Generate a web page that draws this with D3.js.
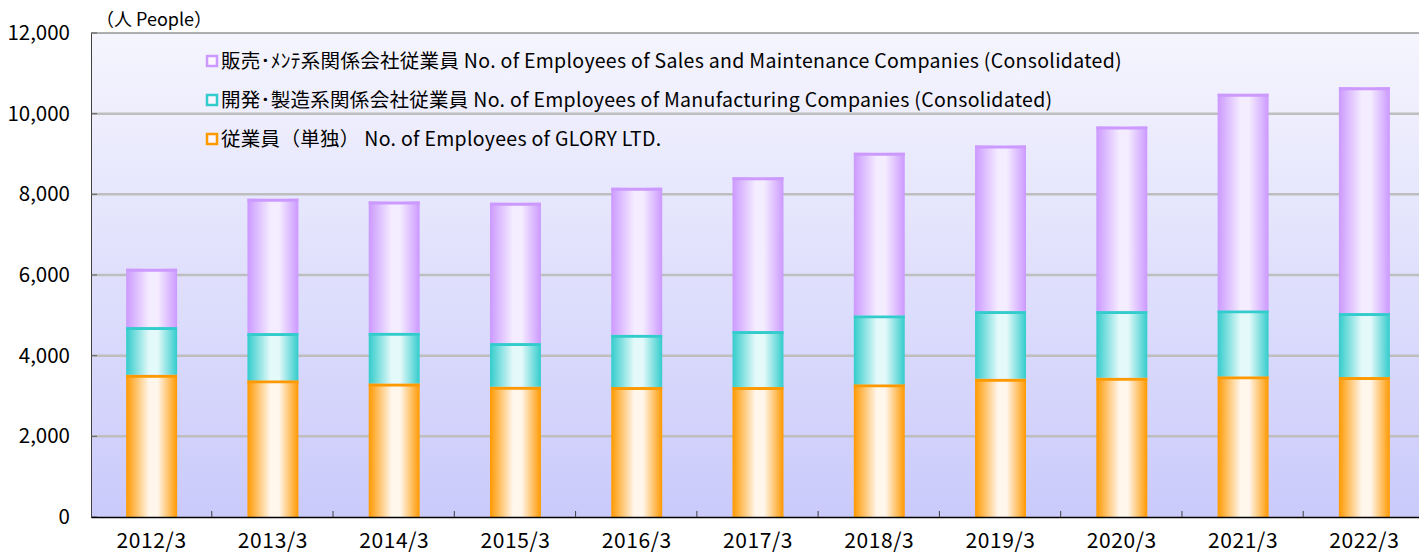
<!DOCTYPE html>
<html>
<head>
<meta charset="utf-8">
<script src="https://cdn.jsdelivr.net/npm/d3@7"></script>
<style>
  body { margin: 0; background: #fff; }
  text { font-family: "Noto Sans CJK JP", "Noto Sans", sans-serif; fill: #000; }
</style>
</head>
<body>
<script>
const years = ['2012/3', '2013/3', '2014/3', '2015/3', '2016/3', '2017/3', '2018/3', '2019/3', '2020/3', '2021/3', '2022/3'];
const gloryLtd = [3529, 3388, 3313, 3232, 3222, 3222, 3289, 3430, 3455, 3487, 3470];
const manufacturing = [1180, 1172, 1257, 1080, 1298, 1388, 1710, 1675, 1650, 1636, 1586];
const salesMaint = [1447, 3331, 3254, 3480, 3644, 3816, 4032, 4107, 4578, 5370, 5601];
const yTicks = [0, 2000, 4000, 6000, 8000, 10000, 12000];
const legendLabels = [
    '販売･ﾒﾝﾃ系関係会社従業員 No. of Employees of Sales and Maintenance Companies (Consolidated)',
    '開発･製造系関係会社従業員 No. of Employees of Manufacturing Companies (Consolidated)',
    '従業員（単独） No. of Employees of GLORY LTD.'
];

const series = [
    { key: 'glory', values: gloryLtd, edge: '#ff9900', mid: '#fff6ec' },
    { key: 'manu', values: manufacturing, edge: '#33cccc', mid: '#e4f9f9' },
    { key: 'sales', values: salesMaint, edge: '#cc99ff', mid: '#f4ecff' }
];

const width = 1419, height = 553;
const plotLeft = 91, plotTop = 33, plotBottom = 517, plotRight = 1425;

let svg = d3.select('body').append('svg')
    .attr('width', width)
    .attr('height', height);

let defs = svg.append('defs');

let bg = defs.append('linearGradient')
    .attr('id', 'bg')
    .attr('x1', 0).attr('y1', 0).attr('x2', 0).attr('y2', 1);
bg.append('stop').attr('offset', '0%').attr('stop-color', '#f5f5fe');
bg.append('stop').attr('offset', '100%').attr('stop-color', '#cacafb');

series.forEach((s) => {
    let g = defs.append('linearGradient')
        .attr('id', 'grad-' + s.key)
        .attr('x1', 0).attr('y1', 0).attr('x2', 1).attr('y2', 0);
    g.append('stop').attr('offset', '0%').attr('stop-color', s.edge);
    g.append('stop').attr('offset', '45%').attr('stop-color', s.mid);
    g.append('stop').attr('offset', '62%').attr('stop-color', s.mid);
    g.append('stop').attr('offset', '100%').attr('stop-color', s.edge);
});

let x = d3.scaleBand()
    .domain(years)
    .range([plotLeft, plotRight])
    .paddingInner(0.58)
    .paddingOuter(0.29);

let y = d3.scaleLinear()
    .domain([0, 12000])
    .range([plotBottom, plotTop]);

// plot background
svg.append('rect')
    .attr('x', plotLeft)
    .attr('y', plotTop)
    .attr('width', plotRight - plotLeft)
    .attr('height', plotBottom - plotTop)
    .attr('fill', 'url(#bg)');

// grid
svg.append('g')
    .selectAll('line')
    .data(yTicks.filter((t) => t > 0 && t < 12000))
    .enter()
    .append('line')
    .attr('x1', plotLeft)
    .attr('x2', plotRight)
    .attr('y1', (d) => y(d))
    .attr('y2', (d) => y(d))
    .attr('stroke', '#bebebe')
    .attr('stroke-width', 2.5);

// top border
svg.append('line')
    .attr('x1', plotLeft).attr('x2', plotRight)
    .attr('y1', y(12000)).attr('y2', y(12000))
    .attr('stroke', '#606060')
    .attr('stroke-width', 1);

// stacked bars
let stackData = years.map((yr, i) => {
    let row = { year: yr };
    series.forEach((s) => { row[s.key] = s.values[i]; });
    return row;
});
let stacked = d3.stack().keys(series.map((s) => s.key))(stackData);

let layers = svg.append('g')
    .selectAll('g')
    .data(stacked)
    .enter()
    .append('g');

layers.selectAll('rect')
    .data((d) => d.map((v) => ({ v: v, key: d.key })))
    .enter()
    .append('rect')
    .attr('x', (d) => x(d.v.data.year))
    .attr('y', (d) => y(d.v[1]))
    .attr('width', x.bandwidth())
    .attr('height', (d) => y(d.v[0]) - y(d.v[1]))
    .attr('fill', (d) => 'url(#grad-' + d.key + ')');

// thin cap line on top of each segment
layers.selectAll('line')
    .data((d) => d.map((v) => ({ v: v, key: d.key })))
    .enter()
    .append('line')
    .attr('x1', (d) => x(d.v.data.year))
    .attr('x2', (d) => x(d.v.data.year) + x.bandwidth())
    .attr('y1', (d) => y(d.v[1]) + 1.5)
    .attr('y2', (d) => y(d.v[1]) + 1.5)
    .attr('stroke', (d) => series.find((s) => s.key === d.key).edge)
    .attr('stroke-width', 3);

// y axis
let yAxis = svg.append('g')
    .attr('transform', 'translate(' + plotLeft + ',0)')
    .call(d3.axisLeft(y).tickValues(yTicks).tickSize(0).tickPadding(21)
        .tickFormat(d3.format(',')));
yAxis.select('.domain').attr('stroke', '#404040');
yAxis.selectAll('text')
    .attr('font-size', 20.5)
    .style('font-family', '"Noto Sans CJK JP", sans-serif');

// small inner ticks on y axis
svg.append('g')
    .selectAll('line')
    .data(yTicks)
    .enter()
    .append('line')
    .attr('x1', plotLeft)
    .attr('x2', plotLeft + 6)
    .attr('y1', (d) => y(d))
    .attr('y2', (d) => y(d))
    .attr('stroke', '#606060')
    .attr('stroke-width', 1);

// x axis
let xAxis = svg.append('g')
    .attr('transform', 'translate(0,' + plotBottom + ')')
    .call(d3.axisBottom(x).tickSize(0).tickPadding(16));
xAxis.select('.domain').attr('stroke', '#000').attr('stroke-width', 1.5);
xAxis.selectAll('text')
    .attr('font-size', 21)
    .attr('letter-spacing', 0.6)
    .style('font-family', '"Noto Sans CJK JP", sans-serif');

// inner ticks at band boundaries
svg.append('g')
    .selectAll('line')
    .data(years.slice(1))
    .enter()
    .append('line')
    .attr('x1', (d) => x(d) - x.step() * x.paddingInner() / 2 - 0.5)
    .attr('x2', (d) => x(d) - x.step() * x.paddingInner() / 2 - 0.5)
    .attr('y1', plotBottom)
    .attr('y2', plotBottom - 6)
    .attr('stroke', '#404040')
    .attr('stroke-width', 1);

// unit label
svg.append('text')
    .attr('x', 96)
    .attr('y', 26)
    .attr('font-size', 18)
    .text('（人 People）');

// legend
let legend = svg.append('g')
    .selectAll('g')
    .data(legendLabels)
    .enter()
    .append('g')
    .attr('transform', (d, i) => 'translate(207,' + (61 + i * 39) + ')');

const legendColors = [series[2].edge, series[1].edge, series[0].edge];

legend.append('rect')
    .attr('x', 0)
    .attr('y', -5)
    .attr('width', 10)
    .attr('height', 10)
    .attr('fill', '#fbf6ff')
    .attr('stroke', (d, i) => legendColors[i])
    .attr('stroke-width', 2.5);

legend.append('text')
    .attr('x', 14)
    .attr('y', 0)
    .attr('dy', '0.35em')
    .attr('font-size', 19.5)
    .attr('letter-spacing', 0.3)
    .text((d) => d);
</script>
</body>
</html>
